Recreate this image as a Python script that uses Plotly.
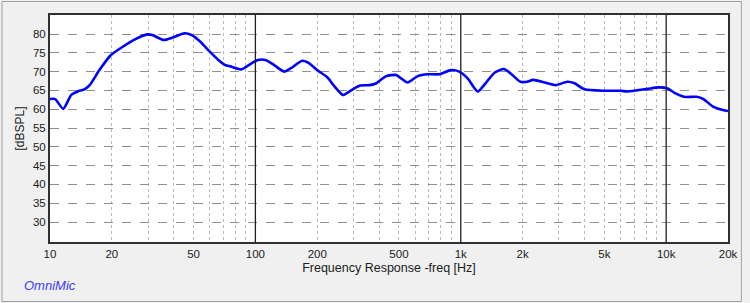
import plotly.graph_objects as go

# Frequency response data (Hz, dB SPL)
freq = [10, 10.6, 11.6, 12.7, 13.9, 14.7, 15.6, 17.4, 19.8, 22.6, 26.2, 29.8, 31.5,
        35.8, 39.3, 45.2, 49, 53.8, 60, 66, 71, 76.5, 85.6, 92, 102.8, 112, 123,
        138, 149, 169, 183, 200, 224, 240, 267, 290, 323, 360, 388, 433, 484, 550,
        617, 692, 789, 893, 983, 1080, 1210, 1320, 1460, 1620, 1750, 1950, 2100,
        2250, 2560, 2900, 3300, 3580, 4000, 4990, 6000, 6500, 8100, 9200, 10100,
        11100, 12200, 14100, 15200, 16900, 18300, 20000]
spl = [62.7, 62.7, 60.1, 63.8, 64.9, 65.3, 66.4, 70.4, 74.4, 76.6, 78.7, 79.9, 79.7,
       78.4, 79.0, 80.2, 79.7, 78.0, 75.3, 73.1, 71.8, 71.3, 70.6, 71.6, 73.1, 73.1,
       71.8, 70.0, 70.9, 72.9, 72.2, 70.4, 68.5, 66.4, 63.8, 64.9, 66.3, 66.4, 66.9,
       68.8, 69.1, 67.1, 68.8, 69.3, 69.3, 70.4, 70.0, 68.2, 64.7, 66.9, 69.7, 70.7,
       69.5, 67.3, 67.3, 67.8, 67.1, 66.4, 67.3, 66.9, 65.3, 64.9, 64.9, 64.7, 65.4,
       65.8, 65.6, 64.2, 63.3, 63.3, 62.7, 60.7, 60.0, 59.5]

x_tickvals = [10, 20, 50, 100, 200, 500, 1000, 2000, 5000, 10000, 20000]
x_ticktext = ["10", "20", "50", "100", "200", "500", "1k", "2k", "5k", "10k", "20k"]
y_tickvals = [30, 35, 40, 45, 50, 55, 60, 65, 70, 75, 80]
minor_vals = ([m * 10 for m in range(2, 10)] + [m * 100 for m in range(2, 10)]
              + [m * 1000 for m in range(2, 10)])
decades = [100, 1000, 10000]

W, H = 750, 303
L, R, T, B = 50, 15, 15, 61
pw, ph = W - L - R, H - T - B

fig = go.Figure()
fig.add_trace(go.Scatter(x=freq, y=spl, mode="lines",
                         line=dict(color="#0000FF", width=2.6, shape="spline", smoothing=0.6),
                         hoverinfo="skip"))

for d in decades:
    fig.add_shape(type="line", xref="x", yref="paper", x0=d, x1=d, y0=0, y1=1,
                  line=dict(color="#202020", width=1.3), layer="above")

# outer frame
fig.add_shape(type="rect", xref="paper", yref="paper",
              x0=(1.5 - L) / pw, x1=(W - 1.5 - L) / pw,
              y0=-(H - 1.5 - T - ph) / ph, y1=1 + (T - 1.5) / ph,
              line=dict(color="#A0A0A0", width=1), layer="below")

fig.add_annotation(text="OmniMic", xref="paper", yref="paper",
                   x=(22 - L) / pw, y=-(285 - T - ph) / ph,
                   xanchor="left", yanchor="middle", showarrow=False,
                   font=dict(family="Liberation Sans, Arial", size=13, color="#3A3AFF"),
                   textangle=0)
fig.add_annotation(text="<i>OmniMic</i>", visible=False)

fig.update_layout(
    width=W, height=H,
    margin=dict(l=L, r=R, t=T, b=B),
    paper_bgcolor="#F0F0F0", plot_bgcolor="#FFFFFF",
    showlegend=False,
    font=dict(family="Liberation Sans, Arial", size=11, color="#202020"),
    xaxis=dict(type="log", range=[1, 4.30103],
               tickvals=x_tickvals, ticktext=x_ticktext, ticks="",
               showgrid=False, zeroline=False,
               showline=True, mirror=True, linecolor="#303030", linewidth=2,
               minor=dict(tickvals=minor_vals, showgrid=True, gridcolor="#B8B8B8",
                          griddash="dot", gridwidth=1, ticks=""),
               title=dict(text="Frequency Response -freq [Hz]", standoff=4,
                          font=dict(size=12.5, color="#202020")),
               tickfont=dict(size=11.5)),
    yaxis=dict(range=[24.7, 85.05], tickvals=y_tickvals, ticks="",
               showgrid=True, gridcolor="#909090", griddash="dash", gridwidth=1,
               zeroline=False,
               showline=True, mirror=True, linecolor="#303030", linewidth=2,
               title=dict(text="[dBSPL]", standoff=6, font=dict(size=12, color="#202020")),
               tickfont=dict(size=11.5)),
)
# make OmniMic italic
fig.layout.annotations[0].text = "<i>OmniMic</i>"
fig.layout.annotations = fig.layout.annotations[:1]

fig.write_html("out.html")
